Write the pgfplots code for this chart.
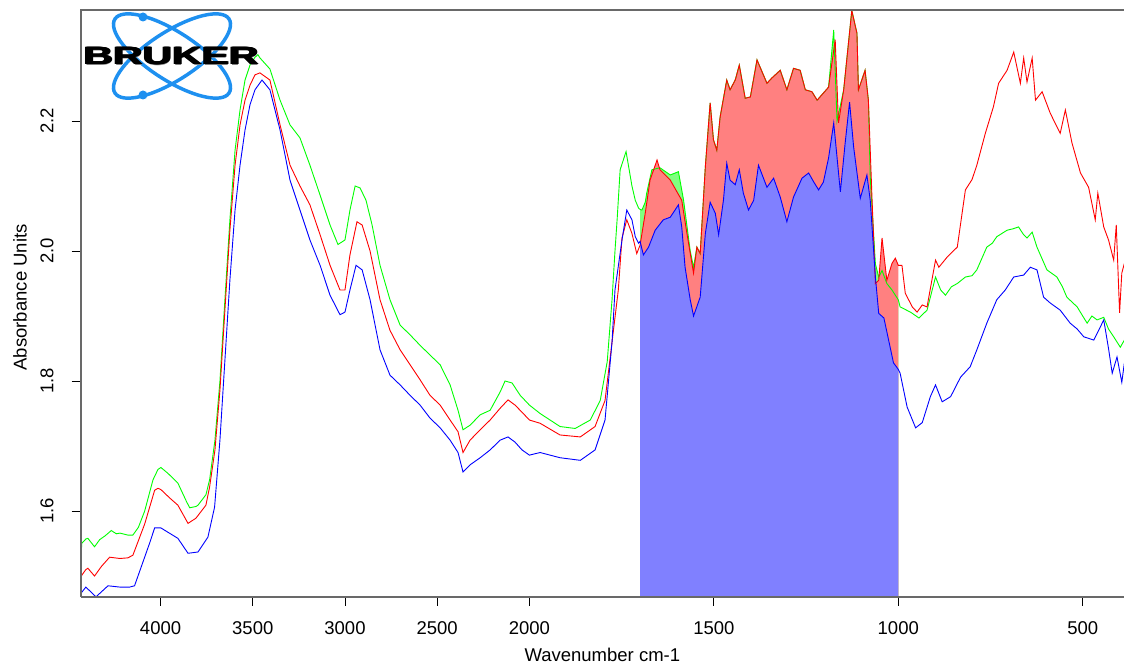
\documentclass[border=0pt]{standalone}
\usepackage{pgfplots}
\pgfplotsset{compat=1.18}
\usepackage{pgfplotstable}
\usepackage{fontspec}
\setmainfont{Liberation Sans}
\definecolor{axgray}{RGB}{105,105,105}
\definecolor{lgreen}{RGB}{128,255,128}
\definecolor{lred}{RGB}{255,128,128}
\definecolor{lblue}{RGB}{128,128,255}
\definecolor{logoblue}{RGB}{30,144,240}
\definecolor{cgreen}{RGB}{0,255,0}
\definecolor{cred}{RGB}{255,0,0}
\definecolor{cblue}{RGB}{0,0,255}

\pgfplotstableread{
wn a
4433 1.46
4428 1.550
4405 1.557
4394 1.558
4358 1.545
4330 1.556
4300 1.562
4267 1.570
4240 1.565
4220 1.566
4177 1.563
4150 1.563
4120 1.575
4086 1.600
4041 1.648
4014 1.664
3998 1.667
3960 1.658
3906 1.643
3860 1.615
3842 1.605
3808 1.607
3797 1.609
3754 1.625
3734 1.648
3705 1.709
3678 1.800
3651 1.925
3624 2.048
3596 2.155
3569 2.217
3542 2.263
3515 2.286
3488 2.298
3472 2.302
3461 2.297
3407 2.280
3352 2.232
3298 2.194
3244 2.174
3190 2.132
3135 2.086
3081 2.040
3038 2.010
3000 2.017
2973 2.063
2945 2.100
2918 2.097
2886 2.078
2853 2.040
2810 1.978
2756 1.925
2701 1.886
2647 1.871
2593 1.855
2539 1.840
2484 1.825
2430 1.794
2387 1.755
2360 1.725
2322 1.732
2267 1.748
2213 1.755
2159 1.783
2132 1.800
2094 1.797
2050 1.778
2000 1.763
1971 1.750
1917 1.730
1876 1.727
1835 1.740
1808 1.770
1789 1.830
1776 1.925
1768 2.000
1762 2.050
1754 2.125
1738 2.153
1722 2.100
1713 2.078
1704 2.066
1700 2.064
1695 2.063
1686 2.075
1682 2.089
1668 2.125
1646 2.128
1618 2.117
1596 2.122
1582 2.078
1564 2.000
1555 1.975
1546 2.006
1537 1.996
1523 2.130
1510 2.228
1501 2.171
1492 2.155
1483 2.206
1465 2.263
1456 2.248
1442 2.263
1431 2.286
1415 2.235
1401 2.237
1383 2.294
1356 2.258
1343 2.266
1320 2.278
1302 2.248
1284 2.281
1266 2.278
1252 2.248
1234 2.245
1220 2.232
1203 2.243
1189 2.252
1175 2.340
1166 2.200
1148 2.248
1126 2.370
1112 2.335
1108 2.248
1090 2.278
1081 2.232
1076 2.114
1062 1.980
1053 1.960
1044 1.970
1031 1.950
1017 1.940
1000 1.925
995 1.914
967 1.906
944 1.897
922 1.909
899 1.960
885 1.940
872 1.932
856 1.945
840 1.950
818 1.960
800 1.962
787 1.971
760 2.006
745 2.012
733 2.022
705 2.032
690 2.034
674 2.037
660 2.025
651 2.020
637 2.029
624 2.006
597 1.971
570 1.960
555 1.945
543 1.929
515 1.914
500 1.900
488 1.889
475 1.900
461 1.894
443 1.898
430 1.880
416 1.868
398 1.852
387 1.863
}\greendata

\pgfplotstableread{
wn a
4433 1.46
4430 1.500
4405 1.510
4394 1.512
4358 1.500
4320 1.515
4276 1.529
4220 1.527
4177 1.528
4150 1.532
4086 1.580
4032 1.632
4014 1.635
3998 1.633
3950 1.620
3906 1.609
3851 1.581
3808 1.589
3754 1.609
3734 1.637
3705 1.694
3678 1.786
3651 1.909
3624 2.032
3596 2.132
3569 2.194
3542 2.232
3515 2.255
3488 2.271
3461 2.274
3407 2.263
3352 2.194
3298 2.132
3244 2.100
3190 2.071
3135 2.025
3081 1.978
3027 1.940
3000 1.940
2973 1.994
2935 2.045
2907 2.040
2864 2.000
2810 1.925
2756 1.878
2701 1.848
2647 1.825
2593 1.802
2539 1.778
2484 1.763
2430 1.740
2387 1.722
2360 1.690
2322 1.709
2267 1.725
2213 1.740
2159 1.758
2116 1.771
2078 1.763
2040 1.752
2000 1.740
1971 1.735
1917 1.717
1862 1.714
1822 1.730
1795 1.770
1776 1.860
1759 1.940
1749 2.020
1736 2.048
1722 2.027
1709 1.996
1700 2.009
1686 2.058
1673 2.109
1654 2.140
1646 2.125
1618 2.109
1587 2.078
1573 2.027
1555 1.966
1546 2.006
1537 1.996
1523 2.130
1510 2.228
1501 2.171
1492 2.155
1483 2.206
1465 2.263
1456 2.248
1442 2.263
1431 2.286
1415 2.235
1401 2.237
1383 2.294
1356 2.258
1343 2.266
1320 2.278
1302 2.248
1284 2.281
1266 2.278
1252 2.248
1234 2.245
1220 2.232
1203 2.243
1189 2.252
1171 2.325
1162 2.197
1148 2.248
1126 2.370
1112 2.335
1108 2.248
1090 2.278
1081 2.232
1071 2.078
1062 1.950
1053 1.955
1044 2.020
1031 1.955
1017 1.981
1008 1.989
1000 1.978
990 1.978
981 1.935
962 1.914
949 1.906
935 1.917
922 1.914
899 1.986
890 1.975
867 1.991
840 2.006
818 2.094
800 2.110
787 2.132
764 2.181
742 2.222
728 2.258
705 2.278
687 2.306
669 2.258
660 2.297
651 2.260
637 2.297
628 2.232
610 2.245
588 2.212
561 2.181
547 2.217
529 2.166
506 2.120
484 2.098
466 2.048
459 2.089
443 2.037
430 2.017
416 1.986
409 2.040
400 1.905
394 1.966
387 1.981
}\reddata

\pgfplotstableread{
wn a
4433 1.46
4430 1.474
4405 1.483
4350 1.468
4285 1.485
4220 1.483
4168 1.483
4141 1.485
4060 1.550
4032 1.574
3998 1.574
3906 1.558
3851 1.535
3797 1.537
3743 1.560
3707 1.606
3678 1.709
3651 1.832
3624 1.955
3596 2.063
3569 2.132
3542 2.186
3515 2.225
3488 2.248
3450 2.263
3407 2.248
3352 2.186
3298 2.109
3244 2.063
3190 2.017
3135 1.978
3081 1.932
3027 1.902
3000 1.906
2973 1.940
2940 1.978
2907 1.971
2864 1.925
2810 1.848
2756 1.809
2701 1.794
2647 1.778
2593 1.763
2539 1.743
2484 1.728
2430 1.709
2387 1.690
2360 1.660
2322 1.671
2267 1.682
2213 1.694
2159 1.709
2116 1.714
2078 1.706
2040 1.694
2000 1.686
1971 1.690
1917 1.682
1862 1.678
1822 1.694
1795 1.740
1776 1.860
1768 1.940
1749 2.017
1736 2.063
1722 2.048
1713 2.022
1704 2.012
1700 2.015
1691 1.994
1677 2.006
1659 2.032
1637 2.048
1618 2.052
1596 2.071
1587 2.037
1578 1.975
1564 1.925
1555 1.900
1537 1.929
1523 2.027
1510 2.075
1496 2.058
1487 2.025
1474 2.078
1465 2.135
1456 2.109
1442 2.102
1431 2.125
1420 2.089
1406 2.063
1392 2.078
1379 2.132
1356 2.098
1338 2.112
1320 2.083
1302 2.045
1284 2.083
1261 2.112
1243 2.120
1229 2.106
1216 2.094
1203 2.106
1189 2.143
1175 2.197
1157 2.091
1144 2.166
1132 2.229
1121 2.160
1103 2.081
1085 2.117
1076 2.078
1062 1.960
1053 1.904
1039 1.897
1013 1.828
1000 1.818
995 1.812
976 1.760
953 1.728
935 1.736
913 1.776
899 1.794
881 1.768
858 1.776
831 1.806
805 1.822
787 1.848
760 1.889
733 1.925
710 1.940
687 1.960
660 1.963
642 1.975
624 1.971
606 1.929
588 1.920
561 1.909
534 1.889
515 1.880
497 1.868
470 1.863
455 1.880
443 1.894
430 1.850
420 1.812
407 1.837
394 1.798
387 1.828
}\bluedata

\begin{document}
\begin{tikzpicture}[x=1bp,y=1bp]
\useasboundingbox (0,0) rectangle (1124,-666);
\begin{axis}[
  name=ax, at={(80.7bp,-9.7bp)}, anchor=north west,
  scale only axis, width=1043.3bp, height=587bp,
  x coord trafo/.code={\pgfmathparse{#1>2000 ? 2000+0.5*(#1-2000) : #1}},
  x dir=reverse,
  xmin=388, xmax=4433, ymin=1.4682, ymax=2.3712,
  axis line style={draw=none},
  xtick={4000,3500,3000,2500,2000,1500,1000,500},
  xticklabels={4000,3500,3000,2500,2000,1500,1000,500},
  ytick={1.6,1.8,2.0,2.2},
  yticklabels={1.6,1.8,2.0,2.2},
  xtick pos=left, ytick pos=left,
  tick align=outside, major tick length=9bp,
  tick style={black, line width=0.8bp},
  every tick label/.append style={font=\fontsize{18.5bp}{20bp}\selectfont, inner sep=0pt},
  xticklabel style={anchor=north},
  yticklabel style={rotate=90, anchor=south},
  xticklabel shift=16bp,
  yticklabel shift=18bp,
  xlabel={Wavenumber cm-1},
  ylabel={Absorbance Units},
  label style={font=\fontsize{18.5bp}{20bp}\selectfont, inner sep=0pt},
  xlabel style={at={(axis description cs:0.5,-0.0998)}, anchor=center},
  ylabel style={at={(axis description cs:-0.0582,0.51)}, anchor=center},
]
\addplot[draw=none, fill=lgreen, restrict x to domain=1000:1700] table[x=wn,y=a] {\greendata} \closedcycle;
\addplot[draw=none, fill=lred, restrict x to domain=1000:1700] table[x=wn,y=a] {\reddata} \closedcycle;
\addplot[draw=none, fill=lblue, restrict x to domain=1000:1700] table[x=wn,y=a] {\bluedata} \closedcycle;
\addplot[cgreen, line width=0.9bp] table[x=wn,y=a] {\greendata};
\addplot[cred, line width=0.9bp] table[x=wn,y=a] {\reddata};
\addplot[cblue, line width=0.9bp] table[x=wn,y=a] {\bluedata};
\end{axis}
\draw[axgray, line width=1.7bp] (ax.south west) -- (ax.north west) -- ([xshift=2bp]ax.north east);
\draw[axgray, line width=1.7bp] (ax.south west) -- ([xshift=2bp]ax.south east);
% logo
\begin{scope}[shift={(172,-56)}]
\draw[logoblue, line width=3.5] (0,0) ellipse [x radius=68, y radius=24, rotate=-33];
\draw[logoblue, line width=3.5] (0,0) ellipse [x radius=68, y radius=24, rotate=33];
\fill[logoblue] (-29,39) circle (4.5);
\fill[logoblue] (-29,-39) circle (4.5);
\node[anchor=base, inner sep=0pt, text=gray, font=\fontsize{25bp}{26bp}\selectfont\bfseries] at (-0.5,-10) {\scalebox{1.637}[1]{BRUKER}};
\foreach \dx in {-2,-1.3,-0.6,0.1}
  \node[anchor=base, inner sep=0pt, text=black, font=\fontsize{25bp}{26bp}\selectfont\bfseries] at (\dx,-9) {\scalebox{1.637}[1]{BRUKER}};
\end{scope}
\end{tikzpicture}
\end{document}
